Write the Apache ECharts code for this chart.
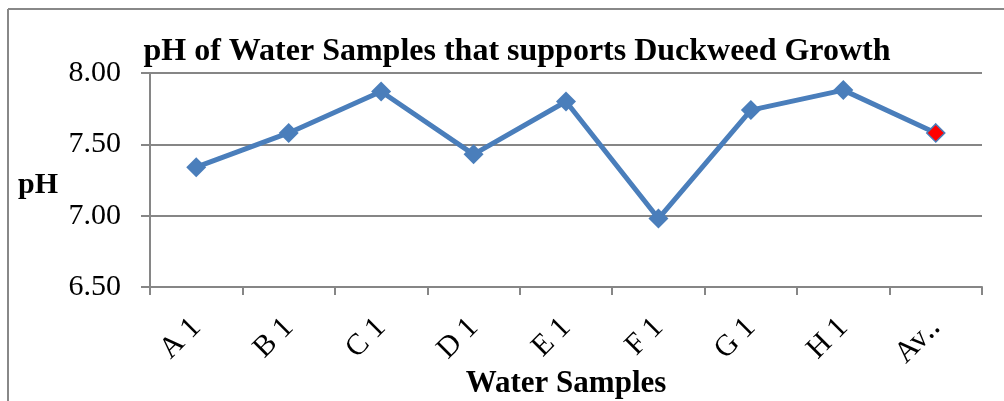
<!DOCTYPE html>
<html>
<head>
<meta charset="utf-8">
<script src="https://cdn.jsdelivr.net/npm/echarts@6/dist/echarts.min.js"></script>
<style>html,body{margin:0;padding:0;background:#fff}#c{width:1004px;height:401px}</style>
</head>
<body>
<div id="c"></div>
<script>
const categories = ["A 1", "B 1", "C 1", "D 1", "E 1", "F 1", "G 1", "H 1", "Av\u2025"];
const phValues = [7.34, 7.58, 7.87, 7.43, 7.80, 6.98, 7.74, 7.88, 7.58];
const highlightIndex = 8;
const yTicks = { min: 6.5, max: 8.0, interval: 0.5 };

const serif = "'Liberation Serif', 'Times New Roman', serif";
const blue = '#4a7ebb';
const data = phValues.map((v, i) => i === highlightIndex
  ? { value: v, itemStyle: { color: '#ff0000', borderColor: blue, borderWidth: 1.5 }, symbolSize: 18 }
  : v);

const chart = echarts.init(document.getElementById('c'));
chart.setOption({
  animation: false,
  backgroundColor: '#fff',
  title: {
    text: 'pH of Water Samples that supports Duckweed Growth',
    left: 512, top: 31, textAlign: 'center',
    textStyle: { fontFamily: serif, fontWeight: 'bold', fontSize: 32, color: '#000' }
  },
  graphic: [
    { type: 'line', shape: { x1: 8, y1: 9, x2: 1004, y2: 9 }, style: { stroke: '#888', lineWidth: 2 } },
    { type: 'line', shape: { x1: 8, y1: 9, x2: 8, y2: 401 }, style: { stroke: '#888', lineWidth: 2 } }
  ],
  grid: { left: 150, right: 22, top: 73, bottom: 114, containLabel: false, outerBoundsMode: 'none' },
  xAxis: {
    type: 'category', data: categories, boundaryGap: true,
    name: 'Water Samples', nameLocation: 'middle', nameGap: 81, nameMoveOverlap: false,
    nameTextStyle: { fontFamily: serif, fontWeight: 'bold', fontSize: 31, color: '#000' },
    axisLine: { lineStyle: { color: '#868686', width: 2 } },
    axisTick: { show: true, length: 8, alignWithLabel: false, lineStyle: { color: '#868686', width: 2 } },
    axisLabel: { rotate: 45, margin: 36, fontFamily: serif, fontSize: 30, color: '#000', interval: 0 }
  },
  yAxis: {
    type: 'value', min: yTicks.min, max: yTicks.max, interval: yTicks.interval,
    name: 'pH', nameLocation: 'middle', nameGap: 92, nameRotate: 0, nameMoveOverlap: false,
    nameTextStyle: { fontFamily: serif, fontWeight: 'bold', fontSize: 30, color: '#000', verticalAlign: 'top', lineHeight: 10 },
    axisLine: { show: true, lineStyle: { color: '#868686', width: 2 } },
    axisTick: { show: true, length: 9, lineStyle: { color: '#868686', width: 2 } },
    splitLine: { show: true, lineStyle: { color: '#868686', width: 2 } },
    axisLabel: { margin: 29, fontFamily: serif, fontSize: 30, color: '#000', formatter: v => v.toFixed(2) }
  },
  series: [{
    type: 'line', data: data,
    symbol: 'diamond', symbolSize: 20,
    lineStyle: { color: blue, width: 5 },
    itemStyle: { color: blue }
  }]
});
</script>
</body>
</html>
